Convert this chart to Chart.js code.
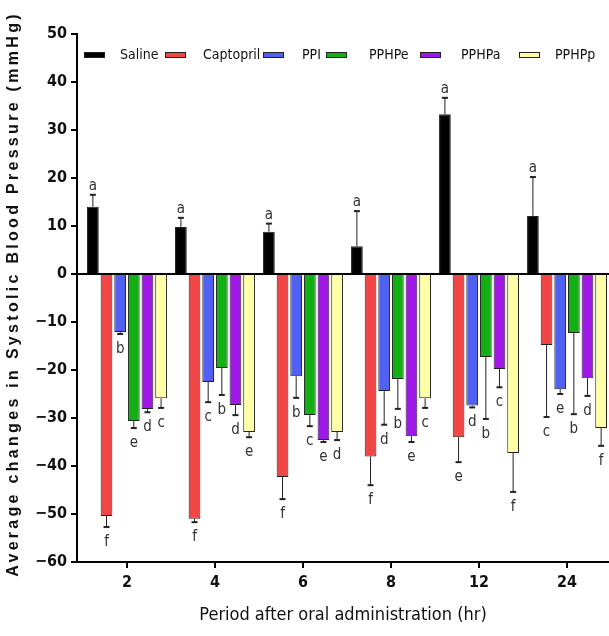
<!DOCTYPE html>
<html>
<head>
<meta charset="utf-8">
<script src="https://cdn.jsdelivr.net/npm/chart.js@4/dist/chart.umd.min.js"></script>
<style>
  html, body { margin: 0; padding: 0; background: #fff; overflow: hidden; }
  canvas { display: block; }
</style>
</head>
<body>
<canvas id="bpChart" width="609" height="636"></canvas>
<script>
// ----------------------------
// Data
// ----------------------------
const hours = ['2', '4', '6', '8', '12', '24'];
const groups = ['Saline', 'Captopril', 'PPI', 'PPHPe', 'PPHPa', 'PPHPp'];

const saline    = [14.0, 9.8, 8.8, 5.8, 33.3, 12.1];
const captopril = [-50.4, -51.0, -42.3, -38.0, -34.0, -14.8];
const ppi       = [-12.1, -22.5, -21.3, -24.4, -27.4, -24.0];
const pphpe     = [-30.6, -19.6, -29.4, -21.9, -17.3, -12.3];
const pphpa     = [-28.1, -27.3, -34.6, -33.8, -19.8, -21.7];
const pphpp     = [-25.9, -32.9, -32.9, -25.9, -37.3, -32.1];

const salineSem    = [2.5, 1.9, 1.7, 7.3, 3.4, 8.1];
const captoprilSem = [2.3, 0.7, 4.6, 6.0, 5.2, 15.0];
const ppiSem       = [0.4, 4.2, 4.5, 7.0, 0.4, 1.0];
const pphpeSem     = [1.5, 5.6, 2.3, 6.2, 12.9, 16.9];
const pphpaSem     = [0.7, 2.1, 0.4, 1.2, 3.8, 3.7];
const pphppSem     = [2.0, 1.1, 1.7, 2.0, 8.1, 3.7];

const salineLetters    = ['a', 'a', 'a', 'a', 'a', 'a'];
const captoprilLetters = ['f', 'f', 'f', 'f', 'e', 'c'];
const ppiLetters       = ['b', 'c', 'b', 'd', 'd', 'e'];
const pphpeLetters     = ['e', 'b', 'c', 'b', 'b', 'b'];
const pphpaLetters     = ['d', 'd', 'e', 'e', 'c', 'd'];
const pphppLetters     = ['c', 'e', 'd', 'c', 'f', 'f'];

const yTicks = [-60, -50, -40, -30, -20, -10, 0, 10, 20, 30, 40, 50];

// ----------------------------
// Styles
// ----------------------------
const colors = ['#000000', '#ef4646', '#5060f2', '#12b012', '#a018e8', '#ffffa8'];
const NARROW = '"DejaVu Sans Condensed", "Liberation Sans Narrow", sans-serif';
// legend box / text columns (layout only)
const legendBoxX = [84, 165, 263, 326, 420, 519];
const legendTextX = [120, 203, 302, 369, 461, 555];

const series = [saline, captopril, ppi, pphpe, pphpa, pphpp];
const sems = [salineSem, captoprilSem, ppiSem, pphpeSem, pphpaSem, pphppSem];
const letters = [salineLetters, captoprilLetters, ppiLetters, pphpeLetters, pphpaLetters, pphppLetters];

const datasets = groups.map((g, i) => ({
  label: g,
  data: series[i].map((v, j) => ({ x: j, y: v })),
  sem: sems[i],
  letters: letters[i],
  backgroundColor: colors[i],
  borderColor: '#222',
  borderWidth: 1,
  categoryPercentage: 0.93,
  barPercentage: 0.86
}));

// error bars + significance letters
const errorBars = {
  id: 'errorBars',
  afterDatasetsDraw(chart) {
    const ctx = chart.ctx;
    const yScale = chart.scales.y;
    chart.data.datasets.forEach((ds, i) => {
      const meta = chart.getDatasetMeta(i);
      meta.data.forEach((bar, j) => {
        const v = ds.data[j].y;
        const e = ds.sem[j];
        const end = v >= 0 ? v + e : v - e;
        const yEnd = yScale.getPixelForValue(end);
        ctx.save();
        ctx.strokeStyle = '#222';
        ctx.lineWidth = 1;
        ctx.beginPath();
        ctx.moveTo(bar.x, bar.y);
        ctx.lineTo(bar.x, yEnd);
        ctx.stroke();
        ctx.lineWidth = 2;
        ctx.beginPath();
        ctx.moveTo(bar.x - 3, yEnd);
        ctx.lineTo(bar.x + 3, yEnd);
        ctx.stroke();
        ctx.fillStyle = '#333';
        ctx.font = '15px ' + NARROW;
        ctx.textAlign = 'center';
        ctx.textBaseline = 'alphabetic';
        ctx.fillText(ds.letters[j], bar.x, v >= 0 ? yEnd - 5 : yEnd + 19);
        ctx.restore();
      });
    });
  }
};

// legend drawn inside the plot area
const innerLegend = {
  id: 'innerLegend',
  afterDraw(chart) {
    const ctx = chart.ctx;
    const y = 55;
    ctx.save();
    ctx.font = '14px ' + NARROW;
    ctx.textBaseline = 'middle';
    ctx.textAlign = 'left';
    chart.data.datasets.forEach((ds, i) => {
      ctx.fillStyle = ds.backgroundColor;
      ctx.fillRect(legendBoxX[i], y - 3, 21, 6);
      ctx.strokeStyle = '#222';
      ctx.lineWidth = 1;
      ctx.strokeRect(legendBoxX[i] + 0.5, y - 2.5, 20, 5);
      ctx.fillStyle = '#111';
      ctx.fillText(ds.label, legendTextX[i], y);
    });
    ctx.restore();
  }
};

// y title with wide letter spacing
const yTitle = {
  id: 'yTitle',
  afterDraw(chart) {
    const ctx = chart.ctx;
    ctx.save();
    ctx.translate(14, 294);
    ctx.rotate(-Math.PI / 2);
    ctx.font = 'bold 16px "Liberation Sans", Arial, sans-serif';
    ctx.letterSpacing = '3.3px';
    ctx.fillStyle = '#111';
    ctx.textAlign = 'center';
    ctx.textBaseline = 'middle';
    ctx.fillText('Average changes in Systolic Blood Pressure (mmHg)', 0, 0);
    ctx.restore();
  }
};

new Chart(document.getElementById('bpChart'), {
  type: 'bar',
  data: { datasets },
  plugins: [errorBars, innerLegend, yTitle],
  options: {
    responsive: false,
    animation: false,
    layout: { padding: { top: 34, left: 0, right: 0, bottom: 0 } },
    plugins: { legend: { display: false }, tooltip: { enabled: false } },
    scales: {
      x: {
        type: 'linear',
        offset: false,
        min: -0.568,
        max: 5.477,
        afterBuildTicks: axis => { axis.ticks = hours.map((h, i) => ({ value: i })); },
        afterFit: axis => { axis.height = 74; },
        ticks: {
          callback: v => hours[v],
          font: { family: NARROW, size: 16, weight: 'bold' },
          color: '#111',
          padding: 5,
          maxRotation: 0
        },
        grid: { offset: false, drawOnChartArea: false, drawTicks: true, tickLength: 6, tickColor: '#000', lineWidth: 2 },
        border: { color: '#000', width: 2 },
        title: {
          display: true,
          text: 'Period after oral administration (hr)',
          font: { family: NARROW, size: 18 },
          color: '#111',
          padding: { top: 0, bottom: 10 }
        }
      },
      y: {
        min: -60,
        max: 50,
        afterBuildTicks: axis => { axis.ticks = yTicks.map(v => ({ value: v })); },
        afterFit: axis => { axis.width = 77; },
        ticks: {
          callback: v => (v < 0 ? '\u2212' + Math.abs(v) : String(v)),
          font: { family: NARROW, size: 16, weight: 'bold' },
          color: '#111',
          padding: 4
        },
        grid: {
          drawOnChartArea: true,
          color: c => (c.tick && c.tick.value === 0 ? '#000' : 'rgba(0,0,0,0)'),
          tickColor: '#000',
          tickLength: 6,
          lineWidth: 2
        },
        border: { color: '#000', width: 2 }
      }
    }
  }
});
</script>
</body>
</html>
